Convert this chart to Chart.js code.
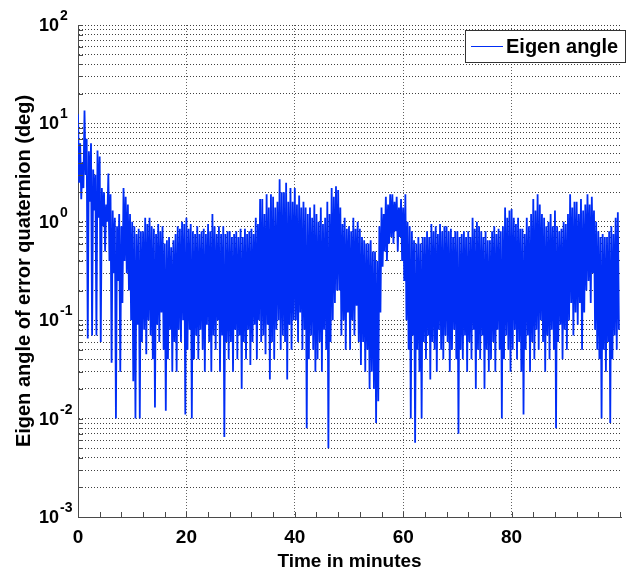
<!DOCTYPE html>
<html>
<head>
<meta charset="utf-8">
<title>Eigen angle</title>
<script src="https://cdn.jsdelivr.net/npm/chart.js@4.4.0/dist/chart.umd.min.js"></script>
<style>
  html, body { margin: 0; padding: 0; background: #fff; }
  #wrap { width: 629px; height: 575px; }
</style>
</head>
<body>
<div id="wrap"><canvas id="angleChart" width="629" height="575"></canvas></div>
<script>
// Eigen angle of the error quaternion, sampled as alternating peak / trough readings
const sampleStep = 0.4; // minutes between peak readings, trough sits half a step later

const peakAngle = [
  12.4, 6.3, 4.0, 13.5, 7.0,    5.2, 6.3, 3.4, 3.0, 5.3,     4.6, 2.2, 2.0, 1.5, 3.1,
  1.9, 1.3, 1.1, 0.9, 1.2,      0.9, 2.2, 1.8, 1.5, 1.2,     1.0, 0.9, 0.75, 0.85, 0.8,
  0.8, 1.1, 0.95, 1.1, 0.9,     0.85, 0.75, 0.95, 0.8, 0.9,  0.6, 0.65, 0.7, 0.55, 0.65,
  0.75, 0.9, 0.85, 1.0, 0.95,   1.1, 0.85, 0.95, 0.8, 0.75,  0.9, 0.75, 0.8, 0.85, 0.75,
  0.95, 0.8, 1.2, 0.9, 0.75,    0.9, 0.75, 0.9, 0.75, 0.8,   0.8, 0.7, 0.75, 0.8, 0.7,
  0.85, 0.7, 0.85, 0.75, 0.8,   0.85, 0.75, 1.1, 0.95, 1.7,  1.7, 1.2, 1.9, 1.4, 1.9,
  1.8, 1.4, 1.6, 2.7, 2.0,      2.0, 2.5, 1.6, 2.2, 1.6,     2.2, 1.5, 1.85, 1.4, 1.6,
  1.4, 1.2, 1.4, 1.1, 1.5,      1.2, 1.0, 1.4, 0.95, 1.1,    1.6, 1.2, 2.2, 1.8, 2.3,
  2.1, 1.4, 0.95, 1.1, 0.85,    0.9, 0.8, 1.1, 0.85, 1.0,    0.85, 0.7, 0.65, 0.6, 0.6,
  0.65, 0.5, 0.5, 0.4, 0.9,     1.4, 1.2, 1.8, 1.5, 1.9,     1.9, 1.6, 1.8, 1.4, 1.7,
  1.4, 1.9, 1.0, 0.9, 0.8,      0.65, 0.6, 0.7, 0.6, 0.7,    0.7, 0.8, 0.7, 0.95, 0.8,
  0.9, 0.75, 0.95, 0.8, 0.9,    0.9, 0.8, 0.85, 0.7, 0.8,    0.8, 0.7, 0.75, 0.8, 0.7,
  0.8, 0.7, 1.1, 0.85, 1.0,     0.9, 0.8, 0.7, 0.8, 0.65,    0.65, 0.8, 0.9, 0.75, 0.85,
  0.8, 0.9, 1.4, 1.1, 1.3,      1.35, 1.1, 0.95, 1.1, 0.85,  0.85, 0.75, 1.1, 0.9, 1.2,
  1.7, 1.3, 1.9, 1.5, 1.2,      1.1, 0.9, 1.0, 1.2, 0.9,     1.3, 0.9, 0.8, 0.85, 1.0,
  0.95, 1.2, 1.9, 1.4, 1.6,     1.6, 1.2, 1.7, 1.3, 1.5,     1.9, 1.5, 1.8, 1.3, 1.0,
  0.8, 0.7, 0.75, 0.7, 0.7,     0.8, 0.9, 0.75, 1.1, 1.25
];

const troughAngle = [
  2.5, 1.7, 2.2, 3.0, 0.065,    1.6, 0.07, 1.3, 0.07, 1.1,   0.06, 0.9, 0.5, 1.0, 0.4,
  0.037, 0.3, 0.01, 0.25, 0.03, 0.15, 0.4, 0.3, 0.2, 0.1,    0.024, 0.01, 0.09, 0.01, 0.06,
  0.08, 0.045, 0.1, 0.07, 0.04, 0.013, 0.09, 0.06, 0.12, 0.05, 0.012, 0.04, 0.08, 0.03, 0.06,
  0.03, 0.08, 0.06, 0.1, 0.011, 0.05, 0.08, 0.01, 0.04, 0.07,  0.04, 0.08, 0.05, 0.03, 0.09,
  0.06, 0.03, 0.07, 0.05, 0.1,  0.03, 0.07, 0.0065, 0.06, 0.04, 0.06, 0.03, 0.08, 0.04, 0.07,
  0.02, 0.06, 0.04, 0.08, 0.035, 0.06, 0.09, 0.04, 0.1, 0.06,  0.07, 0.045, 0.09, 0.025, 0.06,
  0.04, 0.08, 0.1, 0.05, 0.07,  0.06, 0.025, 0.09, 0.05, 0.1,  0.1, 0.06, 0.12, 0.05, 0.08,
  0.008, 0.04, 0.07, 0.05, 0.03, 0.04, 0.06, 0.03, 0.08, 0.05, 0.005, 0.06, 0.1, 0.15, 0.2,
  0.2, 0.07, 0.1, 0.05, 0.12,   0.05, 0.1, 0.07, 0.14, 0.06,  0.035, 0.06, 0.03, 0.05, 0.02,
  0.03, 0.02, 0.009, 0.015, 0.12, 0.35, 0.5, 0.4, 0.6, 0.7,   0.6, 0.8, 0.5, 0.7, 0.4,
  0.25, 0.1, 0.05, 0.01, 0.07,  0.0057, 0.05, 0.03, 0.01, 0.06, 0.04, 0.07, 0.025, 0.06, 0.05,
  0.03, 0.08, 0.05, 0.04, 0.07, 0.06, 0.03, 0.05, 0.08, 0.04,  0.007, 0.05, 0.04, 0.07, 0.03,
  0.06, 0.04, 0.08, 0.02, 0.05, 0.04, 0.07, 0.02, 0.05, 0.03,  0.04, 0.06, 0.03, 0.08, 0.05,
  0.01, 0.04, 0.07, 0.05, 0.03, 0.05, 0.08, 0.04, 0.06, 0.03,  0.011, 0.05, 0.07, 0.03, 0.06,
  0.04, 0.08, 0.05, 0.1, 0.06,  0.03, 0.07, 0.04, 0.08, 0.05,  0.008, 0.06, 0.09, 0.04, 0.08,
  0.05, 0.1, 0.15, 0.07, 0.12,  0.09, 0.15, 0.05, 0.12, 0.2,   0.25, 0.15, 0.3, 0.08, 0.05,
  0.04, 0.01, 0.05, 0.03, 0.06, 0.009, 0.04, 0.07, 0.05, 0.08
];

const xMajorTicks = [0, 20, 40, 60, 80];
const xMinorStep = 4;
const xMax = 100.2;
const yDecades = [0.001, 0.01, 0.1, 1, 10, 100];
const yExponents = ['-3', '-2', '-1', '0', '1', '2'];
const seriesLabel = 'Eigen angle';

const lineColor = 'rgb(0, 45, 245)';
const axisColor = '#4a4a4a';
const FONT = '"Liberation Sans", Arial, Helvetica, sans-serif';

function buildPoints() {
  const pts = [];
  peakAngle.forEach((v, i) => {
    pts.push({ x: i * sampleStep, y: v });
    pts.push({ x: i * sampleStep + sampleStep / 2, y: troughAngle[i] });
  });
  return pts;
}

// 1..9 x 10^k between the outer decades
function logTicks() {
  const ticks = [];
  for (let d = 0; d < yDecades.length - 1; d++) {
    for (let m = 1; m < 10; m++) ticks.push({ value: m * yDecades[d] });
  }
  ticks.push({ value: yDecades[yDecades.length - 1] });
  return ticks;
}

function minuteTicks() {
  const ticks = [];
  for (let v = 0; v <= xMax; v += xMinorStep) ticks.push({ value: v });
  return ticks;
}

// inward tick marks, power-of-ten labels and the boxed legend
const axesDecor = {
  id: 'axesDecor',
  afterDraw(chart) {
    const { ctx, chartArea: area, scales: { x, y } } = chart;
    ctx.save();
    ctx.strokeStyle = axisColor;
    ctx.lineWidth = 1;
    ctx.beginPath();
    x.ticks.forEach(t => {
      const px = Math.round(x.getPixelForValue(t.value)) + 0.5;
      ctx.moveTo(px, area.bottom);
      ctx.lineTo(px, area.bottom - 5);
    });
    y.ticks.forEach(t => {
      const py = Math.round(y.getPixelForValue(t.value)) + 0.5;
      ctx.moveTo(area.left, py);
      ctx.lineTo(area.left + 5, py);
    });
    ctx.stroke();

    ctx.fillStyle = '#000';
    yDecades.forEach((d, i) => {
      const py = y.getPixelForValue(d);
      ctx.font = 'bold 18px ' + FONT;
      ctx.textAlign = 'left';
      ctx.textBaseline = 'middle';
      ctx.fillText('10', 39, py + 1);
      const w = ctx.measureText('10').width;
      ctx.font = 'bold 14px ' + FONT;
      ctx.textBaseline = 'alphabetic';
      ctx.fillText(yExponents[i], 39 + w + 1, py - 5);
    });

    // legend box in the upper right corner of the plot
    const box = { left: 465.5, top: 30.5, width: 160, height: 32 };
    ctx.fillStyle = '#fff';
    ctx.fillRect(box.left, box.top, box.width, box.height);
    ctx.strokeStyle = '#333';
    ctx.lineWidth = 1;
    ctx.strokeRect(box.left, box.top, box.width, box.height);
    const midY = box.top + box.height / 2;
    ctx.strokeStyle = chart.data.datasets[0].borderColor;
    ctx.beginPath();
    ctx.moveTo(471, midY);
    ctx.lineTo(503, midY);
    ctx.stroke();
    ctx.fillStyle = '#000';
    ctx.font = 'bold 20px ' + FONT;
    ctx.textBaseline = 'middle';
    ctx.fillText(chart.data.datasets[0].label, 506, midY + 1);
    ctx.restore();
  }
};

function createAngleChart() {
  const ctx = document.getElementById('angleChart').getContext('2d');
  new Chart(ctx, {
    type: 'line',
    data: {
      datasets: [{
        label: seriesLabel,
        data: buildPoints(),
        borderColor: lineColor,
        borderWidth: 1.8,
        borderJoinStyle: 'bevel',
        pointRadius: 0,
        tension: 0,
        fill: false
      }]
    },
    options: {
      responsive: false,
      animation: false,
      layout: { padding: { top: 25, left: 0, right: 0, bottom: 0 } },
      plugins: { legend: { display: false }, tooltip: { enabled: false } },
      scales: {
        x: {
          type: 'linear',
          min: 0,
          max: xMax,
          afterBuildTicks: scale => { scale.ticks = minuteTicks(); },
          afterFit: scale => { scale.height = 58; },
          ticks: {
            autoSkip: false,
            maxRotation: 0,
            padding: 9,
            color: '#000',
            font: { family: FONT, size: 19, weight: 'bold' },
            callback: v => xMajorTicks.includes(v) ? String(v) : ''
          },
          grid: {
            drawTicks: false,
            lineWidth: 1,
            color: c => (c.tick && xMajorTicks.includes(c.tick.value) && c.tick.value !== 0)
              ? 'rgba(60,60,60,0.8)' : 'rgba(0,0,0,0)'
          },
          border: { display: true, color: axisColor, width: 1, dash: [1, 2] },
          title: {
            display: true,
            text: 'Time in minutes',
            color: '#000',
            font: { family: FONT, size: 19, weight: 'bold', lineHeight: 1.2 },
            padding: { top: 0, bottom: 2 }
          }
        },
        y: {
          type: 'logarithmic',
          min: yDecades[0],
          max: yDecades[yDecades.length - 1],
          afterBuildTicks: scale => { scale.ticks = logTicks(); },
          afterFit: scale => { scale.width = 78; },
          ticks: { display: false },
          grid: { drawTicks: false, lineWidth: 1, color: 'rgba(30,30,30,0.85)' },
          border: { display: true, color: axisColor, width: 1, dash: [1, 2] },
          title: {
            display: true,
            text: 'Eigen angle of error quaternion (deg)',
            color: '#000',
            font: { family: FONT, size: 20, weight: 'bold', lineHeight: 1.2 },
            padding: { top: 12, bottom: 0 }
          }
        }
      }
    },
    plugins: [axesDecor]
  });
}

document.addEventListener('DOMContentLoaded', createAngleChart);
</script>
</body>
</html>
